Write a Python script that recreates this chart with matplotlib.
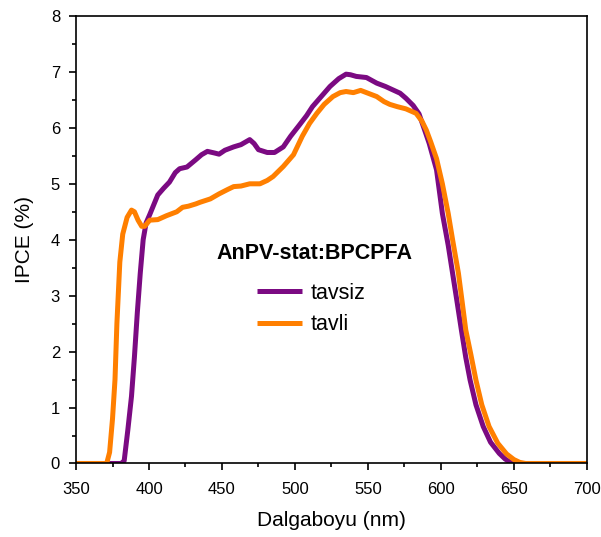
import matplotlib
matplotlib.use("Agg")
import matplotlib.pyplot as plt
from matplotlib.ticker import MultipleLocator

plt.rcParams['font.family'] = ['Liberation Sans', 'DejaVu Sans']

wl_tavsiz = [350, 381, 383, 385.5, 388, 390, 392, 394, 396, 398, 400.5, 406, 410, 414, 418, 421, 426,
             432, 436, 440, 445, 448, 452, 458, 463, 469, 472, 475, 481, 486, 492, 497, 503, 508,
             512, 518, 524, 530, 535, 538, 542, 549, 556, 562, 567, 572, 576, 581, 585, 589, 592,
             597, 601, 605, 608, 611, 614, 617, 620, 624, 629, 634, 640, 644, 647, 650, 700]
ipce_tavsiz = [0, 0, 0.05, 0.6, 1.2, 1.9, 2.7, 3.4, 4.0, 4.3, 4.45, 4.8, 4.92, 5.03, 5.2, 5.27, 5.3,
               5.43, 5.52, 5.58, 5.55, 5.53, 5.6, 5.66, 5.7, 5.79, 5.72, 5.61, 5.56, 5.56, 5.66, 5.85,
               6.05, 6.22, 6.38, 6.56, 6.74, 6.88, 6.96, 6.95, 6.92, 6.9, 6.8, 6.74, 6.68, 6.62, 6.53,
               6.4, 6.25, 5.95, 5.72, 5.25, 4.47, 3.9, 3.4, 2.9, 2.39, 1.9, 1.49, 1.05, 0.66, 0.38,
               0.18, 0.08, 0.03, 0, 0]

wl_tavli = [350, 371, 373, 375, 376.7, 378, 380, 382, 385, 388, 390, 392.5, 395, 397, 400.5, 406,
            412, 419, 423, 427, 432, 435, 442, 448, 454, 458, 463, 469, 476, 481, 485, 492, 499,
            505, 510, 515, 520, 526, 531, 535, 540, 545, 550, 556, 561, 565, 570, 576, 583, 587,
            590, 593, 597, 601, 605, 608, 612, 614.5, 617, 620.5, 624, 628, 633, 639, 645, 650,
            654, 658, 700]
ipce_tavli = [0, 0, 0.2, 0.8, 1.5, 2.5, 3.6, 4.1, 4.4, 4.53, 4.5, 4.35, 4.24, 4.24, 4.35, 4.36,
              4.43, 4.5, 4.58, 4.6, 4.64, 4.67, 4.73, 4.82, 4.9, 4.95, 4.96, 5.0, 5.0, 5.06, 5.13,
              5.31, 5.52, 5.85, 6.08, 6.26, 6.42, 6.56, 6.63, 6.65, 6.63, 6.67, 6.62, 6.56, 6.47,
              6.42, 6.38, 6.34, 6.26, 6.12, 5.96, 5.75, 5.45, 5.0, 4.47, 4.0, 3.4, 2.9, 2.39, 1.95,
              1.49, 1.05, 0.66, 0.36, 0.17, 0.07, 0.02, 0, 0]

xticks = [350, 400, 450, 500, 550, 600, 650, 700]
yticks = [0, 1, 2, 3, 4, 5, 6, 7, 8]

fig = plt.figure(figsize=(6.01, 5.37), dpi=100)
ax = fig.add_axes([0.1265, 0.1369, 0.85, 0.8333])

ax.plot(wl_tavsiz, ipce_tavsiz, color='#7B0A82', lw=3.6, label='tavsiz',
        solid_joinstyle='round', solid_capstyle='butt')
ax.plot(wl_tavli, ipce_tavli, color='#FF7F00', lw=3.6, label='tavli',
        solid_joinstyle='round', solid_capstyle='butt')

ax.set_xlim(350, 700)
ax.set_ylim(0, 8)
ax.set_xticks(xticks)
ax.set_yticks(yticks)
ax.xaxis.set_minor_locator(MultipleLocator(25))
ax.yaxis.set_minor_locator(MultipleLocator(0.5))
ax.tick_params(which='major', direction='out', length=5, width=1.2, labelsize=12)
ax.tick_params(which='minor', direction='out', length=3, width=1.2)
ax.tick_params(axis='x', which='major', pad=8.5)
ax.tick_params(axis='y', which='major', pad=6.5)
for s in ax.spines.values():
    s.set_linewidth(1.2)

ax.set_xlabel('Dalgaboyu (nm)', fontsize=15, labelpad=10)
ax.set_ylabel('IPCE (%)', fontsize=15, labelpad=12)

ax.text(513.5, 3.76, 'AnPV-stat:BPCPFA', fontsize=15.5, fontweight='bold', ha='center', va='center')
leg = ax.legend(loc='center left', bbox_to_anchor=(0.354, 0.345), frameon=False, fontsize=15.5,
                handlelength=2.1, handletextpad=0.4, labelspacing=0.5, borderpad=0,
                borderaxespad=0)

fig.savefig('out.png', dpi=100)
